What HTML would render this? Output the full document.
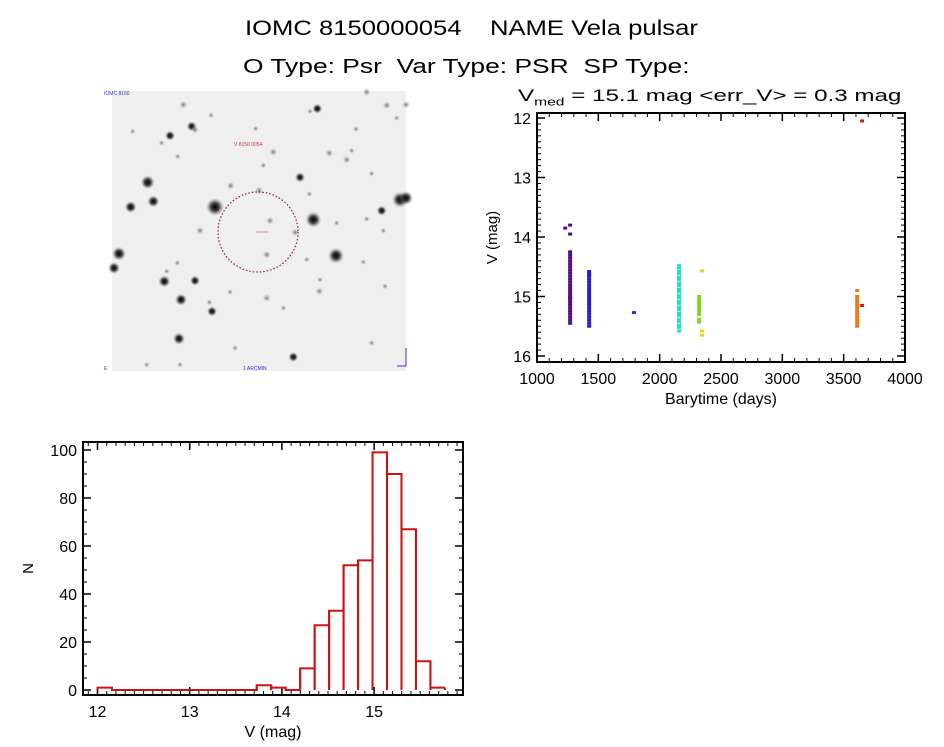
<!DOCTYPE html>
<html><head><meta charset="utf-8">
<style>
html,body{margin:0;padding:0;background:#fff;}
body{width:944px;height:747px;overflow:hidden;position:relative;font-family:"Liberation Sans",sans-serif;}
.t{position:absolute;white-space:nowrap;color:#000;transform-origin:0 0;}
</style></head>
<body>
<div class="t" style="left:245px;top:17px;font-size:21px;transform:scaleX(1.22)">IOMC 8150000054&nbsp;&nbsp;&nbsp;&nbsp;NAME Vela pulsar</div>
<div class="t" style="left:243px;top:56px;font-size:20px;transform:scaleX(1.32)">O Type: Psr&nbsp;&nbsp;Var Type: PSR&nbsp;&nbsp;SP Type:</div>
<div class="t" style="left:518px;top:86px;font-size:17px;transform:scaleX(1.42)">V<sub style="font-size:11px">med</sub> = 15.1 mag &lt;err_V&gt; = 0.3 mag</div>

<svg id="sky" width="944" height="747" style="position:absolute;left:0;top:0" xmlns="http://www.w3.org/2000/svg">
<defs>
<radialGradient id="sg"><stop offset="0" stop-color="#000" stop-opacity="1"/><stop offset="0.45" stop-color="#222" stop-opacity="0.85"/><stop offset="1" stop-color="#888" stop-opacity="0"/></radialGradient>
<radialGradient id="sf"><stop offset="0" stop-color="#555" stop-opacity="0.8"/><stop offset="1" stop-color="#aaa" stop-opacity="0"/></radialGradient>
</defs>
<rect x="112" y="91" width="294" height="280" fill="#efefef"/>
<g id="stars"></g>
<circle cx="258" cy="232" r="40" fill="none" stroke="#8b1a1a" stroke-width="1.2" stroke-dasharray="1.5,2"/>
<line x1="256" y1="232" x2="268" y2="232" stroke="#d88" stroke-width="1"/>
<text x="104" y="95" font-size="5" fill="#33c" font-family="Liberation Sans, sans-serif">IOMC 8150</text>
<text x="234" y="146" font-size="5" fill="#c33" font-family="Liberation Sans, sans-serif">V 8150 0054</text>
<text x="243" y="370" font-size="5" fill="#33c" font-family="Liberation Sans, sans-serif">1 ARCMIN</text>
<text x="104" y="370" font-size="5" fill="#33c" font-family="Liberation Sans, sans-serif">E</text>
<line x1="397" y1="366" x2="406" y2="366" stroke="#33c"/><line x1="406" y1="348" x2="406" y2="366" stroke="#33c"/>
</svg>

<svg id="lc" width="944" height="747" style="position:absolute;left:0;top:0" xmlns="http://www.w3.org/2000/svg"></svg>
<svg id="hist" width="944" height="747" style="position:absolute;left:0;top:0" xmlns="http://www.w3.org/2000/svg"></svg>

<script>
const starX=[345,143,92,160,57,42,193,243,237,285,336,300,210,275,250,652,600,640,708,900,845,580,500,392,477,510,585,500,800,860,768,688,740,520,490,467,333,98,185,233,658,850,790,855,660,328,405,240,140,815,918,890,710,800,620,628,815,755,200,232,390,550,918,285,630];
const starY=[357,283,357,340,497,540,580,635,752,578,670,428,143,115,50,62,268,395,503,335,368,807,630,293,307,398,433,500,12,52,123,195,215,192,232,122,82,130,165,205,610,428,522,595,575,643,780,830,830,765,50,90,405,393,515,318,257,188,550,525,612,660,330,125,70];
const starS=[9,7,6,6,7,6,6,6,6,5,5,4,5,5,4,5,5,8,8,8,5,5,4,4,4,4,4,4,4,4,3,4,4,4,3,3,3,3,3,3,4,3,3,3,3,3,3,3,3,3,4,3,3,3,3,3,3,3,3,3,3,3,7,4,3];
const sg=document.getElementById('stars');
for(let i=0;i<starX.length;i++){
  const c=document.createElementNS('http://www.w3.org/2000/svg','circle');
  
  
  c.setAttribute('cx',100+starX[i]/3);c.setAttribute('cy',88+starY[i]/3);
  c.setAttribute('r',starS[i]);c.setAttribute('fill',starS[i]>=5?'url(#sg)':'url(#sf)');
  sg.appendChild(c);
}
const NS='http://www.w3.org/2000/svg';
function el(p,tag,attrs){const e=document.createElementNS(NS,tag);for(const k in attrs)e.setAttribute(k,attrs[k]);p.appendChild(e);return e;}

const lcTimes=[1270,1230,1425,1790,2158,2322,2345,3610,3650];
const lcColors=['#4b0f8c','#4b0f8c','#2a1acc','#1a3aa0','#1ee0d0','#7ed61a','#e0d81a','#e8781a','#cc1a1a'];
const lcMags=[
 [13.8,13.95,14.25,14.3,14.35,14.4,14.45,14.5,14.55,14.6,14.65,14.7,14.75,14.8,14.85,14.9,14.95,15.0,15.02,15.05,15.1,15.15,15.2,15.25,15.3,15.35,15.4,15.45],
 [13.85],
 [14.58,14.62,14.65,14.7,14.75,14.8,14.85,14.9,14.95,15.0,15.05,15.1,15.15,15.2,15.25,15.3,15.35,15.4,15.45,15.5],
 [15.27],
 [14.48,14.52,14.58,14.62,14.68,14.72,14.78,14.82,14.88,14.92,14.98,15.02,15.08,15.12,15.18,15.22,15.28,15.32,15.38,15.42,15.48,15.52,15.58],
 [15.0,15.05,15.1,15.15,15.2,15.25,15.3,15.38,15.43],
 [14.57,15.58,15.65],
 [14.9,15.0,15.05,15.1,15.15,15.2,15.25,15.3,15.35,15.4,15.45,15.5],
 [12.05,15.15]
];
const lcXTicks=[1000,1500,2000,2500,3000,3500,4000];
const lcYTicks=[12,13,14,15,16];

const L={x0:537,x1:905,y0:113,y1:362};
const lx=t=>537+(t-1000)/3000*368;
const ly=v=>118+(v-12)/4*238;
const lc=document.getElementById('lc');
for(let c=0;c<lcTimes.length;c++){
  for(const v of lcMags[c]){
    const r=el(lc,'rect',{x:lx(lcTimes[c])-2,y:ly(v)-1.5,width:4,height:3,fill:lcColors[c]});
    
    
  }
}
function frame(svg,B,xs,ys,xTicks,yTicks,xMinor,yMinor,xmin,xmax,ymin,ymax,xlab,ylab,namePre,yTitleX){
  const f=el(svg,'rect',{x:B.x0,y:B.y0,width:B.x1-B.x0,height:B.y1-B.y0,fill:'none',stroke:'#000','stroke-width':2});
  
  
  for(let v=xmin;v<=xmax+1e-9;v+=xMinor){const X=xs(v);if(X<B.x0||X>B.x1)continue;
    el(svg,'line',{x1:X,x2:X,y1:B.y1,y2:B.y1-4,stroke:'#000'});el(svg,'line',{x1:X,x2:X,y1:B.y0,y2:B.y0+4,stroke:'#000'});}
  for(let v=ymin;v<=ymax+1e-9;v+=yMinor){const Y=ys(v);if(Y<B.y0||Y>B.y1)continue;
    el(svg,'line',{x1:B.x0,x2:B.x0+4,y1:Y,y2:Y,stroke:'#000'});el(svg,'line',{x1:B.x1,x2:B.x1-4,y1:Y,y2:Y,stroke:'#000'});}
  for(const v of xTicks){const X=xs(v);
    el(svg,'line',{x1:X,x2:X,y1:B.y1,y2:B.y1-8,stroke:'#000','stroke-width':1.5});el(svg,'line',{x1:X,x2:X,y1:B.y0,y2:B.y0+8,stroke:'#000','stroke-width':1.5});
    const t=el(svg,'text',{x:X,y:B.y1+22,'text-anchor':'middle','font-size':16,'font-family':'Liberation Sans, sans-serif'});t.textContent=v;
    
    }
  for(const v of yTicks){const Y=ys(v);
    el(svg,'line',{x1:B.x0,x2:B.x0+8,y1:Y,y2:Y,stroke:'#000','stroke-width':1.5});el(svg,'line',{x1:B.x1,x2:B.x1-8,y1:Y,y2:Y,stroke:'#000','stroke-width':1.5});
    const t=el(svg,'text',{x:B.x0-6,y:Y+6,'text-anchor':'end','font-size':16,'font-family':'Liberation Sans, sans-serif'});t.textContent=v;
    
    }
  const xl=el(svg,'text',{x:(B.x0+B.x1)/2,y:B.y1+42,'text-anchor':'middle','font-size':16,'font-family':'Liberation Sans, sans-serif'});xl.textContent=xlab;
  
  
  const yx=yTitleX,yy=(B.y0+B.y1)/2;
  const yl=el(svg,'text',{x:yx,y:yy,'text-anchor':'middle','font-size':15,'font-family':'Liberation Sans, sans-serif',transform:`rotate(-90 ${yx} ${yy})`});yl.textContent=ylab;
  
  
}
frame(lc,L,lx,ly,lcXTicks,lcYTicks,100,0.1,1000,4000,11.9,16.1,'Barytime (days)','V (mag)','lc',497);

const binStart=12.0, binWidth=0.157;
const binCounts=[1,0,0,0,0,0,0,0,0,0,0,2,1,0,9,27,33,52,54,99,90,67,12,1];
const histXTicks=[12,13,14,15];
const histYTicks=[0,20,40,60,80,100];
const H={x0:83,x1:463,y0:442,y1:695};
const hx=m=>97.5+(m-12)*92.2;
const hy=n=>690-n*2.4;
const hs=document.getElementById('hist');
frame(hs,H,hx,hy,histXTicks,histYTicks,0.1,5,11.8,16,0,105,'V (mag)','N','hist',33);
let d='';
for(let k=0;k<binCounts.length;k++){
  const a=hx(binStart+k*binWidth),b=hx(binStart+(k+1)*binWidth),y=hy(binCounts[k]);
  if(k===0)d+=`M${a},${hy(0)}`;
  d+=` L${a},${y} L${b},${y}`;
  if(binCounts[k]>0)el(hs,'line',{x1:a,x2:a,y1:hy(0),y2:y,stroke:'#cc1111','stroke-width':2});
  if(binCounts[k]>0)el(hs,'line',{x1:b,x2:b,y1:hy(0),y2:y,stroke:'#cc1111','stroke-width':2});
}
const hp=el(hs,'path',{d:d,fill:'none',stroke:'#cc1111','stroke-width':2});


</script>
</body></html>
